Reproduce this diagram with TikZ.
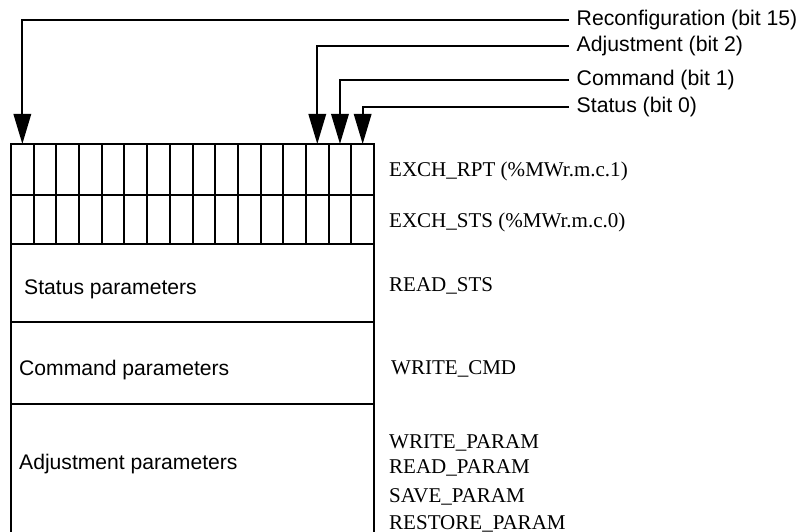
\documentclass[tikz,border=0pt]{standalone}
\usepackage{fontspec}
\setmainfont{Liberation Serif}
\newfontfamily\arialf{Liberation Sans}
\usetikzlibrary{arrows.meta}
\begin{document}
\begin{tikzpicture}[x=1bp,y=-1bp,
  lw/.style={line width=2bp},
  arr/.style={lw,-{Triangle[length=30bp,width=17.4bp]}},
  toplab/.style={anchor=west,inner xsep=7.5bp,inner ysep=0pt,font=\arialf\fontsize{21.3}{24}\selectfont},
  leftlab/.style={anchor=base west,inner sep=0pt,font=\arialf\fontsize{21.2}{24}\selectfont},
  rightlab/.style={anchor=base west,inner sep=0pt,font=\fontsize{21.1}{24}\selectfont}]
\useasboundingbox (0,0) rectangle (803,532);
% register box
\draw[lw] (11,540) -- (11,144) -- (374,144) -- (374,540);
\foreach \yy in {195,244,322,404} \draw[lw] (11,\yy) -- (374,\yy);
\foreach \i in {1,...,15} \draw[lw] ({11+22.6875*\i},144) -- ({11+22.6875*\i},244);
% bit targets
\coordinate (b15) at ({11+22.6875*0.5},144);
\coordinate (b2) at ({11+22.6875*13.5},144);
\coordinate (b1) at ({11+22.6875*14.5},144);
\coordinate (b0) at ({11+22.6875*15.5},144);
% top labels
\node[toplab] (lrec) at (569,20) {Reconfiguration (bit 15)};
\node[toplab] (ladj) at (569,45.7) {Adjustment (bit 2)};
\node[toplab] (lcmd) at (569,80) {Command (bit 1)};
\node[toplab] (lsts) at (569,107) {Status (bit 0)};
\draw[arr] (lrec.west) -| (b15);
\draw[arr] (ladj.west) -| (b2);
\draw[arr] (lcmd.west) -| (b1);
\draw[arr] (lsts.west) -| (b0);
% left labels
\node[leftlab] (pst) at (24,295) {Status parameters};
\node[leftlab] (pcm) at (19,375) {Command parameters};
\node[leftlab] (pad) at (19,469) {Adjustment parameters};
% right labels
\node[rightlab] (r1) at (389,177) {EXCH\_RPT (\%MWr.m.c.1)};
\node[rightlab] (r2) at (389,228) {EXCH\_STS (\%MWr.m.c.0)};
\node[rightlab] (r3) at (389,292) {READ\_STS};
\node[rightlab] (r4) at (391,374) {WRITE\_CMD};
\node[rightlab] (r5) at (389,448) {WRITE\_PARAM};
\node[rightlab] (r6) at (389,473) {READ\_PARAM};
\node[rightlab] (r7) at (389,502) {SAVE\_PARAM};
\node[rightlab] (r8) at (389,529) {RESTORE\_PARAM};
\end{tikzpicture}
\end{document}
